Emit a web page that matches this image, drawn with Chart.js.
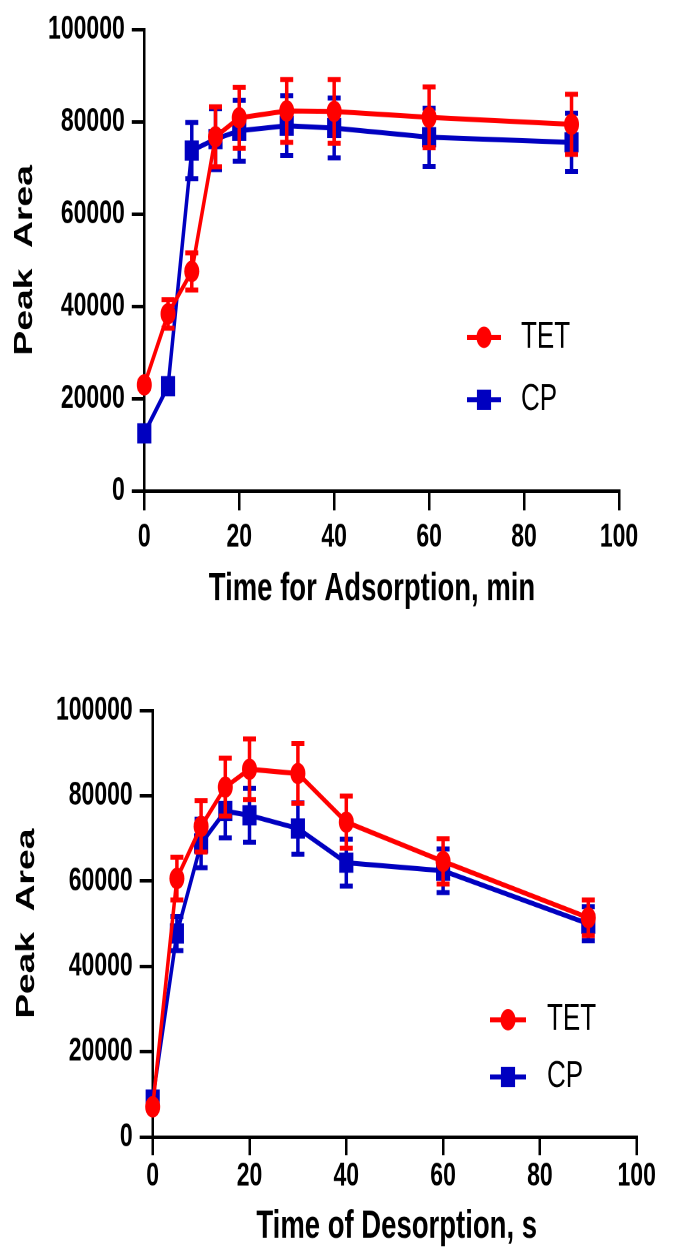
<!DOCTYPE html>
<html><head><meta charset="utf-8">
<script src="https://cdn.jsdelivr.net/npm/chart.js@4.4.1/dist/chart.umd.min.js"></script>
<style>
html,body{margin:0;padding:0;background:#fff;overflow:hidden;}
canvas{display:block;}
</style></head><body>
<canvas id="c1" width="676" height="448" style="width:676px;height:640.64px"></canvas>
<canvas id="c2" width="676" height="424" style="width:676px;height:606.32px"></canvas>
<script>
// ---- data ----
const seriesNames = ['TET', 'CP'];
const adsTimes = [0, 5, 10, 15, 20, 30, 40, 60, 90];
const adsTET = [23000, 38400, 47600, 76800, 80900, 82400, 82300, 81000, 79500];
const adsTETerr = [800, 3100, 4000, 6500, 6600, 6800, 6900, 6600, 6500];
const adsCP = [12500, 22700, 73800, 76300, 78100, 79200, 78700, 76700, 75600];
const adsCPerr = [700, 900, 6100, 6600, 6600, 6500, 6500, 6300, 6300];

const desTimes = [0, 5, 10, 15, 20, 30, 40, 60, 90];
const desTET = [7100, 60600, 72800, 82000, 86200, 85200, 73800, 64600, 51400];
const desTETerr = [700, 5000, 6000, 6800, 7100, 7000, 6100, 5300, 4200];
const desCP = [8800, 47700, 68800, 76400, 75400, 72300, 64300, 62400, 50000];
const desCPerr = [800, 4000, 5700, 6300, 6300, 6000, 5500, 5100, 4000];

const xTickValues = [0, 20, 40, 60, 80, 100];
const yTickValues = [0, 20000, 40000, 60000, 80000, 100000];
const adsXTitle = 'Time for Adsorption, min';
const desXTitle = 'Time of Desorption, s';
const yTitleText = 'Peak  Area';

// ---- style ----
const RED = '#ff0000';
const BLUE = '#0000c0';
const FAM = '"Liberation Sans", Arial, Helvetica, sans-serif';
Chart.defaults.font.family = FAM;
Chart.defaults.color = '#000';

const errorBars = {
  id: 'errorBars',
  beforeDatasetDraw(chart, args, opts) {
    const ds = chart.data.datasets[args.index];
    if (!ds.errors) return;
    const xs = chart.scales.x, ys = chart.scales.y, ctx = chart.ctx;
    ctx.save();
    ctx.strokeStyle = ds.borderColor;
    ctx.lineWidth = opts.lineWidth;
    ctx.lineCap = 'butt';
    ds.data.forEach((p, i) => {
      const e = ds.errors[i];
      const x = xs.getPixelForValue(p.x);
      const yt = ys.getPixelForValue(p.y + e), yb = ys.getPixelForValue(p.y - e);
      ctx.beginPath();
      ctx.moveTo(x, yt); ctx.lineTo(x, yb);
      ctx.moveTo(x - opts.cap, yt); ctx.lineTo(x + opts.cap, yt);
      ctx.moveTo(x - opts.cap, yb); ctx.lineTo(x + opts.cap, yb);
      ctx.stroke();
    });
    ctx.restore();
  }
};

const insideLegend = {
  id: 'insideLegend',
  afterDraw(chart, args, o) {
    const ctx = chart.ctx;
    chart.data.datasets.forEach((ds, i) => {
      const y = o.ys[i];
      ctx.save();
      ctx.strokeStyle = ds.borderColor;
      ctx.lineWidth = ds.borderWidth;
      ctx.beginPath(); ctx.moveTo(o.x0, y); ctx.lineTo(o.x1, y); ctx.stroke();
      ctx.fillStyle = ds.pointBackgroundColor;
      const mx = (o.x0 + o.x1) / 2;
      if (ds.pointStyle === 'circle') {
        ctx.beginPath(); ctx.arc(mx, y, ds.pointRadius, 0, Math.PI * 2); ctx.fill();
      } else {
        const h = ds.pointRadius * Math.SQRT1_2;
        ctx.fillRect(mx - h, y - h, 2 * h, 2 * h);
      }
      ctx.fillStyle = '#000';
      ctx.font = o.font;
      ctx.textBaseline = 'middle';
      ctx.textAlign = 'left';
      ctx.fillText(ds.label, o.tx, y);
      ctx.restore();
    });
  }
};

const xAxisTitle = {
  id: 'xAxisTitle',
  afterDraw(chart, args, o) {
    const ctx = chart.ctx;
    ctx.save();
    ctx.fillStyle = '#000';
    ctx.font = 'bold 27.5px ' + FAM;
    ctx.textAlign = 'center';
    ctx.textBaseline = 'middle';
    ctx.fillText(o.text, o.x, o.y);
    ctx.restore();
  }
};

function makeChart(id, times, tet, tetErr, cp, cpErr, xTitle, L) {
  return new Chart(document.getElementById(id), {
    type: 'line',
    data: {
      datasets: [
        { label: seriesNames[0], data: times.map((t, i) => ({ x: t, y: tet[i] })), errors: tetErr,
          borderColor: RED, backgroundColor: RED, pointBackgroundColor: RED, pointBorderWidth: 0,
          pointStyle: 'circle', pointRadius: 7.5, borderWidth: 3.5, tension: 0, clip: false },
        { label: seriesNames[1], data: times.map((t, i) => ({ x: t, y: cp[i] })), errors: cpErr,
          borderColor: BLUE, backgroundColor: BLUE, pointBackgroundColor: BLUE, pointBorderWidth: 0,
          pointStyle: 'rect', pointRadius: 10, borderWidth: 3.5, tension: 0, clip: false }
      ]
    },
    options: {
      responsive: false, animation: false, devicePixelRatio: 2,
      events: [],
      layout: { padding: { left: 0, top: L.top, right: L.right, bottom: 0 } },
      plugins: {
        legend: { display: false }, tooltip: { enabled: false },
        errorBars: { lineWidth: 3.5, cap: 6.5 },
        insideLegend: { x0: L.lx0, x1: L.lx1, tx: L.ltx, ys: L.lys, font: '26px ' + FAM },
        xAxisTitle: { text: xTitle, x: L.tx, y: L.ty }
      },
      scales: {
        x: {
          type: 'linear', min: 0, max: 100,
          afterBuildTicks: s => { s.ticks = xTickValues.map(v => ({ value: v })); },
          afterFit: s => { s.height = L.xh; },
          grid: { drawOnChartArea: false, color: '#000', lineWidth: 2.5, tickLength: L.xtl },
          border: { color: '#000', width: 2.5 },
          ticks: { color: '#000', font: { size: 23, weight: 'bold' }, padding: L.xpad, autoSkip: false, maxRotation: 0, callback: v => String(v) },
          title: { display: false }
        },
        y: {
          type: 'linear', min: 0, max: 100000,
          afterBuildTicks: s => { s.ticks = yTickValues.map(v => ({ value: v })); },
          afterFit: s => { s.width = L.left; },
          grid: { drawOnChartArea: false, color: '#000', lineWidth: 2.5, tickLength: L.ytl },
          border: { color: '#000', width: 2.5 },
          ticks: { color: '#000', font: { size: 23, weight: 'bold' }, padding: 7, autoSkip: false, callback: v => String(v) },
          title: { display: true, text: yTitleText, color: '#000', font: { size: 26, weight: 'bold', lineHeight: 1 }, padding: { top: L.ytp, bottom: 0 } }
        }
      }
    },
    plugins: [errorBars, insideLegend, xAxisTitle]
  });
}

makeChart('c1', adsTimes, adsTET, adsTETerr, adsCP, adsCPerr, adsXTitle, {
  top: 17.5, right: 57, left: 144.3, xh: 448 - 343.1, xtl: 13.6, ytl: 12.5, xpad: 5, ytp: 12,
  tx: 372, ty: 412,
  lx0: 467, lx1: 501, ltx: 521, lys: [235.7, 279.4]
});
makeChart('c2', desTimes, desTET, desTETerr, desCP, desCPerr, desXTitle, {
  top: 48.5, right: 39.3, left: 152.7, xh: 424 - 347.1, xtl: 12.6, ytl: 13, xpad: 1, ytp: 14,
  tx: 396.7, ty: 410,
  lx0: 490, lx1: 526, ltx: 547, lys: [265, 305]
});
</script>
</body></html>
